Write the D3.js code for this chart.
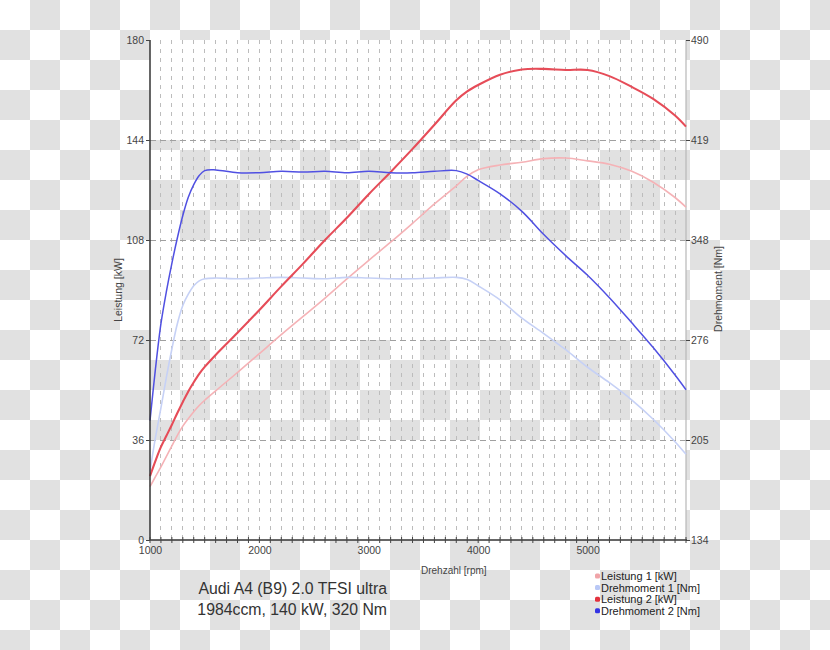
<!DOCTYPE html>
<html><head><meta charset="utf-8">
<script src="https://cdn.jsdelivr.net/npm/d3@7"></script>
<style>body{margin:0;background:#fff}svg{display:block;font-family:"Liberation Sans",Arial,sans-serif}</style>
</head><body><svg id="c" width="830" height="650"></svg>
<script>
const rpm = [1000,1050,1100,1150,1200,1250,1300,1350,1400,1450,1500,1600,1800,2000,2200,2400,2600,2800,3000,3200,3400,3600,3800,3900,4000,4200,4400,4600,4800,5000,5200,5400,5600,5800,5900];
const leistung1 = [19.2,22.8,26.3,30.1,33.9,37.7,41,43.7,46.2,48.4,50.3,53.7,60.3,67.1,73.9,80.5,87.1,94,100.7,107.2,114,121,127.5,131,133.3,135,136,137.3,137.5,136.5,135.3,132.8,128.8,123.3,119.8];
const drehmoment1 = [183,207,228,250,270,288,301,309,315,318.5,320,320.5,320,320.5,321,320.5,320,321,320.5,320,320,320.5,321,319.5,315,305,292,281,269.5,257,246,234,220,204,195];
const leistung2 = [23,28.5,33.5,37.5,41.5,45.7,49.7,53.5,56.8,59.8,62.3,66.6,74.6,82.8,91.3,99.5,108,116,124.5,132.5,140.8,149.5,158.3,161.5,163.8,167.5,169.4,169.6,169.2,169.2,167,163.2,158.8,152.8,148.8];
const drehmoment2 = [219,256,288,311,331,349,365,378,387,393.5,397,397.5,395.5,395.5,396.5,396,396.5,395.5,396.5,395.5,395.5,396.5,397,394.5,390,380.5,368,351.5,336.5,322.5,306.5,289,271,251.5,241];
const kwTicks = [0,36,72,108,144,180];
const nmTicks = [134,205.2,276.4,347.6,418.8,490];
const rpmTicks = [1000,2000,3000,4000,5000];
const seriesNames = ["Leistung 1 [kW]","Drehmoment 1 [Nm]","Leistung 2 [kW]","Drehmoment 2 [Nm]"];
const titleLines = ["Audi A4 (B9) 2.0 TFSI ultra","1984ccm, 140 kW, 320 Nm"];

const colors = ["#f5b2b6","#c6d1f6","#e64c58","#5050e2"];
const legendColors = ["#f0a4a8","#b9c8f6","#e3323e","#3434e4"];
const widths = [1.6,1.6,2.1,1.5];

const svg = d3.select("#c");
const L = 150, R = 686, T = 40, B = 540;
const x = d3.scaleLinear().domain([1000,5900]).range([L,R]);
const yL = d3.scaleLinear().domain([0,180]).range([B,T]);
const yR = d3.scaleLinear().domain([134,490]).range([B,T]);

// checker background
const defs = svg.append("defs");
const pat = defs.append("pattern").attr("id","chk").attr("patternUnits","userSpaceOnUse")
  .attr("x",0).attr("y",0).attr("width",60).attr("height",60);
pat.append("rect").attr("width",60).attr("height",60).attr("fill","#ffffff");
pat.append("rect").attr("x",30).attr("y",0).attr("width",30).attr("height",30).attr("fill","#e1e1e1");
pat.append("rect").attr("x",0).attr("y",30).attr("width",30).attr("height",30).attr("fill","#e1e1e1");
svg.append("rect").attr("width",830).attr("height",650).attr("fill","url(#chk)");

// white bands in plot
[[144,180],[72,108],[0,36]].forEach(([lo,hi])=>{
  svg.append("rect").attr("x",L).attr("y",yL(hi)).attr("width",R-L).attr("height",yL(lo)-yL(hi)).attr("fill","#fff");
});

// vertical grid
const minor = d3.range(1100,5900,100);
svg.append("g").selectAll("line").data(minor).join("line")
  .attr("x1",d=>x(d)).attr("x2",d=>x(d)).attr("y1",T).attr("y2",B)
  .attr("stroke","#bcbcbc").attr("stroke-width",1).attr("stroke-dasharray","4,5")
  .attr("shape-rendering","crispEdges");
// horizontal grid
svg.append("g").selectAll("line").data(kwTicks.slice(1,5)).join("line")
  .attr("x1",L).attr("x2",R).attr("y1",d=>yL(d)).attr("y2",d=>yL(d))
  .attr("stroke","#a0a0a0").attr("stroke-width",1).attr("stroke-dasharray","6,4")
  .attr("shape-rendering","crispEdges");

// right axis line
svg.append("line").attr("x1",R).attr("x2",R).attr("y1",T).attr("y2",B).attr("stroke","#b8b8b8").attr("stroke-width",1.2);

// lines
const data = [leistung1, drehmoment1, leistung2, drehmoment2];
const scales = [yL, yR, yL, yR];
data.forEach((vals,i)=>{
  const line = d3.line().x((d,j)=>x(rpm[j])).y(d=>scales[i](d)).curve(d3.curveCatmullRom.alpha(0.5));
  svg.append("path").datum(vals).attr("d",line).attr("fill","none")
    .attr("stroke",colors[i]).attr("stroke-width",widths[i]).attr("stroke-linejoin","round");
});

// left axis
const gL = svg.append("g").attr("transform",`translate(${L},0)`)
  .call(d3.axisLeft(yL).tickValues(kwTicks).tickSize(4).tickPadding(2).tickFormat(d3.format("d")));
gL.select(".domain").attr("stroke","#333").attr("stroke-width",1.5).attr("d",`M0,${T}V${B}`);
gL.selectAll(".tick line").attr("stroke","#444");
gL.selectAll("text").attr("fill","#444").attr("font-size","10.5px").attr("font-family","Liberation Sans, Arial, sans-serif");

// right axis
const gR = svg.append("g").attr("transform",`translate(${R},0)`)
  .call(d3.axisRight(yR).tickValues(nmTicks).tickSize(4).tickPadding(1).tickFormat(d3.format(".0f")));
gR.select(".domain").remove();
gR.selectAll(".tick line").attr("stroke","#444");
gR.selectAll("text").attr("fill","#444").attr("font-size","10.5px").attr("font-family","Liberation Sans, Arial, sans-serif");

// bottom axis
const gB = svg.append("g").attr("transform",`translate(0,${B})`)
  .call(d3.axisBottom(x).tickValues(rpmTicks).tickSize(0).tickPadding(7).tickFormat(d3.format("d")));
gB.select(".domain").attr("stroke","#333").attr("stroke-width",1.5).attr("d",`M${L},0H${R+1}`);
gB.selectAll("text").attr("fill","#444").attr("font-size","10.5px").attr("font-family","Liberation Sans, Arial, sans-serif");
gB.append("g").selectAll("line").data(d3.range(1000,5901,100)).join("line")
  .attr("x1",d=>x(d)).attr("x2",d=>x(d)).attr("y1",-3).attr("y2",3).attr("stroke","#444");

// axis titles
svg.append("text").attr("transform","translate(122,290) rotate(-90)").attr("text-anchor","middle")
  .attr("font-size","10.5px").attr("fill","#444").text("Leistung [kW]");
svg.append("text").attr("transform","translate(722,289) rotate(-90)").attr("text-anchor","middle")
  .attr("font-size","10.5px").attr("fill","#444").text("Drehmoment [Nm]");
svg.append("text").attr("x",421).attr("y",574).attr("font-size","10px").attr("fill","#444").text("Drehzahl [rpm]");

// title
svg.append("g").selectAll("text").data(titleLines).join("text")
  .attr("x",387).attr("y",(d,i)=>594+i*21).attr("text-anchor","end")
  .attr("font-size","15.8px").attr("fill","#333").text(d=>d);

// legend
const lg = svg.append("g").selectAll("g").data(seriesNames).join("g")
  .attr("transform",(d,i)=>`translate(595,${576+i*11.6})`);
lg.append("rect").attr("x",0).attr("y",-2.5).attr("width",5).attr("height",5).attr("rx",1.5).attr("fill",(d,i)=>legendColors[i]);
lg.append("text").attr("x",6).attr("y",4).attr("font-size","11px").attr("fill","#222").text(d=>d);
</script></body></html>
